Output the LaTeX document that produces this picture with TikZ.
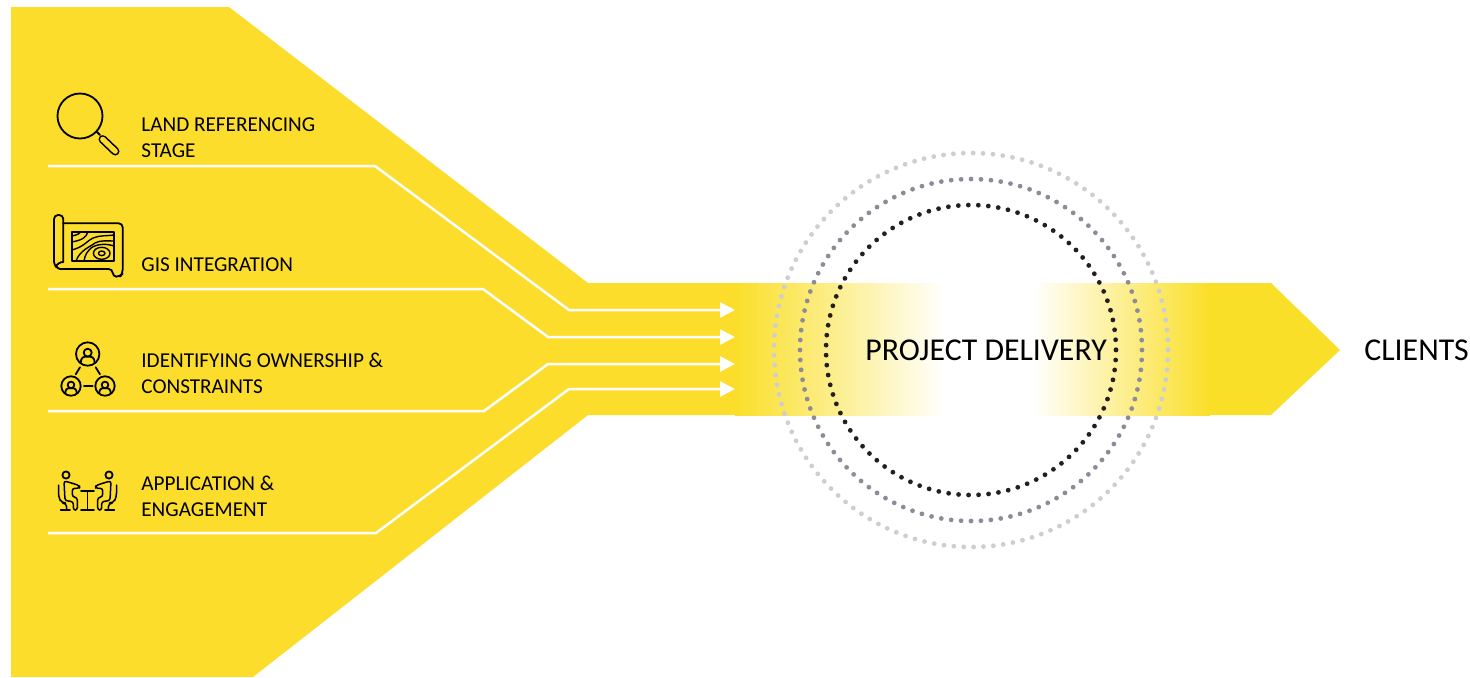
\documentclass[tikz,border=0pt]{standalone}
\usepackage{fontspec}
\setmainfont{Carlito}
\usetikzlibrary{arrows.meta}
\definecolor{brandyellow}{HTML}{FDDD2B}
\definecolor{bandyellow}{HTML}{FADF28}
\definecolor{ringblack}{HTML}{231F20}
\definecolor{ringgrey}{HTML}{8C8C98}
\definecolor{ringlight}{HTML}{CDCDD2}

\newcommand{\ownerring}[3]{%
	\begin{scope}[shift={(#1,#2)},scale=#3]
		\draw[iconline] (0,0) circle [radius=11.7];
		\draw[iconline] (0,-1.3) circle [radius=4];
		\draw[iconline] (-7,8.7) .. controls (-6.7,3) and (-4,2.5) .. (0,2.5) .. controls (4,2.5) and (6.7,3) .. (7,8.7);
	\end{scope}}
\newcommand{\sitter}{%
	\draw[iconline] (66,475) circle [radius=3.6];
	\draw[iconline,line width=0.75pt,rounded corners=1.2pt] (64,481) -- (70,482.5) -- (79.5,485.7) -- (79.5,488.3) -- (72.3,488.3) -- (72.3,496.7) -- (77.3,497.7) -- (77.3,510) -- (73.3,510) -- (73.3,501.7) -- (65,500.5) -- cycle;
	\draw[iconline,line width=0.75pt,rounded corners=2pt] (58.5,485) -- (58.5,497) -- (61.5,503) -- (66.7,503) -- (66.7,510);
	\draw[iconline] (60.7,510.3) -- (70,510.3);}

\begin{document}
\begin{tikzpicture}[x=0.5pt,y=-0.5pt]
\tikzset{iconline/.style={black,line width=0.9pt,line cap=round,line join=round},
	feedline/.style={white,line width=1.25pt},
	feedarrow/.style={feedline,-{Triangle[length=7.5pt,width=7.5pt]}},
	ringdots/.style={line cap=round,line width=2.4pt},
	stagelabel/.style={anchor=west,inner sep=0pt,align=left,font=\fontsize{10.6}{12.9}\selectfont},
	mainlabel/.style={anchor=base west,inner sep=0pt,font=\fontsize{15.9}{18}\selectfont}}
\useasboundingbox (0,0) rectangle (1470,677);

%----------fond jaune------------
\fill[brandyellow] (11,7) -- (229,7) -- (588,283) -- (735,283) -- (735,415) -- (588,415) -- (253,677) -- (11,677) -- cycle;
\shade[left color=bandyellow,right color=white] (735,283) rectangle (945,415);
\shade[left color=white,right color=bandyellow] (1032,283) rectangle (1210,415);
\fill[bandyellow] (1210,283) -- (1271,283) -- (1340,350) -- (1271,415) -- (1210,415) -- cycle;

%----------lignes blanches------------
\coordinate (A1) at (735,310);
\coordinate (A2) at (735,337);
\coordinate (A3) at (735,364);
\coordinate (A4) at (735,389);
\draw[feedarrow] (48,166) -- (375,166) -- (569,310) -- (A1);
\draw[feedarrow] (48,289) -- (483,289) -- (548,337) -- (A2);
\draw[feedarrow] (48,411) -- (484,411) -- (548,364) -- (A3);
\draw[feedarrow] (48,533) -- (376,533) -- (569,389) -- (A4);

%----------cercles------------
\coordinate (C) at (971,350);
\draw[ringdots,ringblack,dash pattern=on 0pt off 5.005pt] (C) ++(145,0) arc [start angle=0,end angle=360,radius=145];
\draw[ringdots,ringgrey,dash pattern=on 0pt off 4.975pt] (C) ++(171,0) arc [start angle=0,end angle=360,radius=171];
\draw[ringdots,ringlight,dash pattern=on 0pt off 4.95pt] (C) ++(197,0) arc [start angle=0,end angle=360,radius=197];

%----------loupe------------
\draw[iconline] (80,116) circle [radius=22.5];
\draw[iconline] (96.7,131.7) -- (100,135);
\draw[black,line width=4.2pt,line cap=round] (102.7,139.3) -- (115.3,151.3);
\draw[brandyellow,line width=2.6pt,line cap=round] (102.7,139.3) -- (115.3,151.3);

%----------carte------------
\draw[iconline,rounded corners=2pt] (63.3,223.3) -- (122.7,223.3) -- (122.7,273.5) -- (120,276.7) -- (112.7,276.7) -- (112.7,269) -- (60,269);
\draw[iconline,rounded corners=2pt] (60,269) -- (54,266) -- (54,215) -- (63.3,215) -- (63.3,262);
\draw[iconline] (63.3,262) .. controls (60,262) and (56.7,264) .. (56,267);
\begin{scope}
	\clip (71.7,231.7) rectangle (114,261);
	\draw[iconline,line width=0.7pt] (71.7,236) .. controls (78,235) and (80,233) .. (81,231.7);
	\draw[iconline,line width=0.7pt] (71.7,242) .. controls (82,240) and (86,238) .. (88,231.7);
	\draw[iconline,line width=0.7pt] (71.7,250) .. controls (84,247) and (88,240) .. (93,238) .. controls (100,235) and (108,236) .. (114,235);
	\draw[iconline,line width=0.7pt] (76,261) .. controls (80,250) and (90,247) .. (95,243) .. controls (100,240) and (108,241) .. (114,241);
	\draw[iconline,line width=0.7pt] (84,261) .. controls (85,254) and (88,251) .. (91,248) .. controls (98,243) and (108,244) .. (114,246);
	\draw[iconline,line width=0.7pt] (101.7,253.3) ellipse [x radius=8.3,y radius=6];
	\draw[iconline,line width=0.7pt] (101.7,253.3) ellipse [x radius=3.3,y radius=2.3];
\end{scope}
\draw[iconline] (71.7,231.7) rectangle (114,261);

%----------personnes------------
\ownerring{87.7}{354}{1}
\ownerring{71}{386}{0.83}
\ownerring{105}{386}{0.83}
\draw[iconline] (75.7,374.3) -- (80,367.3);
\draw[iconline] (100,374.3) -- (95.7,367.3);
\draw[iconline] (84,386.3) -- (92.7,386.3);

%----------reunion------------
\sitter
\begin{scope}[shift={(175,0)},xscale=-1]
	\sitter
\end{scope}
\draw[iconline] (81,491) -- (94,491);
\draw[iconline] (87.5,491) -- (87.5,510);
\draw[iconline] (81,510.3) -- (94,510.3);

%----------textes------------
\node[stagelabel] (land) at (141,137.5) {LAND REFERENCING\\STAGE};
\node[stagelabel] (gis) at (141,264.5) {GIS INTEGRATION};
\node[stagelabel] (owner) at (141,373.5) {IDENTIFYING OWNERSHIP \&\\CONSTRAINTS};
\node[stagelabel] (engage) at (141,496.5) {APPLICATION \&\\ENGAGEMENT};
\node[mainlabel] (delivery) at (865,360) {PROJECT DELIVERY};
\node[mainlabel] (clients) at (1364,360) {CLIENTS};
\end{tikzpicture}
\end{document}
